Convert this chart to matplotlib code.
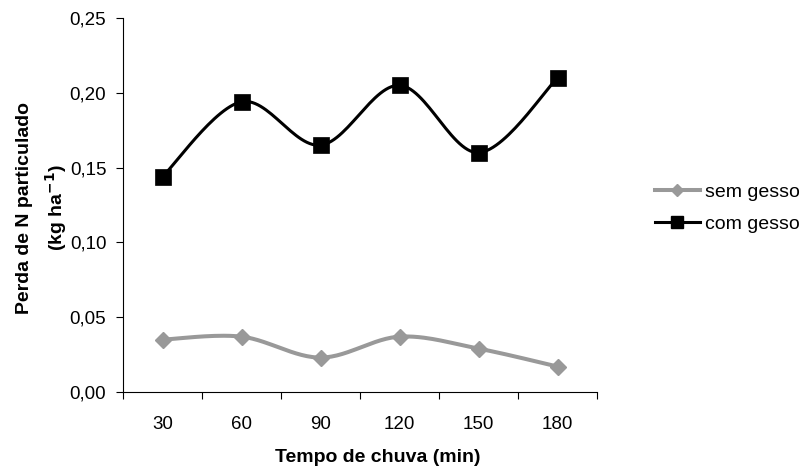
import numpy as np
import matplotlib
matplotlib.use("Agg")
import matplotlib.pyplot as plt
from matplotlib.ticker import FuncFormatter, FixedLocator
from matplotlib.lines import Line2D

plt.rcParams['font.family'] = ['Liberation Sans', 'DejaVu Sans']

categories = ["30", "60", "90", "120", "150", "180"]
sem_gesso = [0.035, 0.037, 0.023, 0.037, 0.029, 0.017]
com_gesso = [0.144, 0.194, 0.165, 0.205, 0.160, 0.210]


def smooth(xs, ys, n=30):
    # Catmull-Rom style Bezier smoothing (as in spreadsheet "smoothed line")
    xs = np.asarray(xs, float); ys = np.asarray(ys, float)
    P = np.column_stack([xs, ys])
    out = []
    for i in range(len(P) - 1):
        p0 = P[i - 1] if i > 0 else P[i]
        p1 = P[i]; p2 = P[i + 1]
        p3 = P[i + 2] if i + 2 < len(P) else P[i + 1]
        c1 = p1 + (p2 - p0) / 6.0
        c2 = p2 - (p3 - p1) / 6.0
        t = np.linspace(0, 1, n)[:, None]
        seg = ((1 - t) ** 3) * p1 + 3 * ((1 - t) ** 2) * t * c1 + 3 * (1 - t) * t ** 2 * c2 + t ** 3 * p2
        out.append(seg if i == 0 else seg[1:])
    s = np.vstack(out)
    return s[:, 0], s[:, 1]


fig = plt.figure(figsize=(8.03, 4.69), dpi=100)
ax = fig.add_axes([0.1532, 0.1642, 0.5903, 0.7974])

x = np.arange(len(categories))
gray = '#999999'
sx, sy = smooth(x, sem_gesso)
ax.plot(sx, sy, color=gray, lw=2.9, solid_capstyle='round', zorder=2)
ax.plot(x, sem_gesso, ls='none', marker='D', ms=7.8, color=gray, zorder=3)
cx, cy = smooth(x, com_gesso)
ax.plot(cx, cy, color='black', lw=2.2, zorder=2)
ax.plot(x, com_gesso, ls='none', marker='s', ms=11.5, mew=0.5, color='black', zorder=3)

ax.set_xlim(-0.5, len(categories) - 0.5)
ax.set_ylim(0, 0.25)
ax.set_yticks(np.arange(0, 0.2501, 0.05))
ax.yaxis.set_major_formatter(FuncFormatter(lambda v, p: f"{v:.2f}".replace('.', ',')))
ax.set_xticks(x)
ax.set_xticklabels(categories)
ax.xaxis.set_minor_locator(FixedLocator(np.arange(-0.5, len(categories), 1.0)))
ax.tick_params(axis='x', which='major', length=0, pad=17, labelsize=13.5)
ax.tick_params(axis='x', which='minor', length=5, width=0.8, direction='out')
ax.tick_params(axis='y', length=5, width=0.8, direction='out', labelsize=13.5, pad=7)

for s in ['top', 'right']:
    ax.spines[s].set_visible(False)
for s in ['left', 'bottom']:
    ax.spines[s].set_linewidth(0.8)

fig.text(378 / 803, 1 - 457 / 469, "Tempo de chuva (min)", fontsize=14,
         fontweight='bold', ha='center', va='center')
fig.text(42.5 / 803, 1 - 208 / 469, "Perda de N particulado\n(kg ha$^{\\mathbf{-1}}$)",
         fontsize=14, fontweight='bold', rotation=90, ha='center', va='center',
         multialignment='center', linespacing=1.55)

handles = [Line2D([], [], color=gray, lw=2.9, marker='D', ms=6),
           Line2D([], [], color='black', lw=2.2, marker='s', ms=8)]
fig.legend(handles, ["sem gesso", "com gesso"], loc='center left',
           bbox_to_anchor=(655 / 803, 1 - 208 / 469), frameon=False, fontsize=14,
           handlelength=2.3, handletextpad=0.25, labelspacing=0.75,
           borderaxespad=0, borderpad=0)

fig.savefig("out.png", dpi=100)
